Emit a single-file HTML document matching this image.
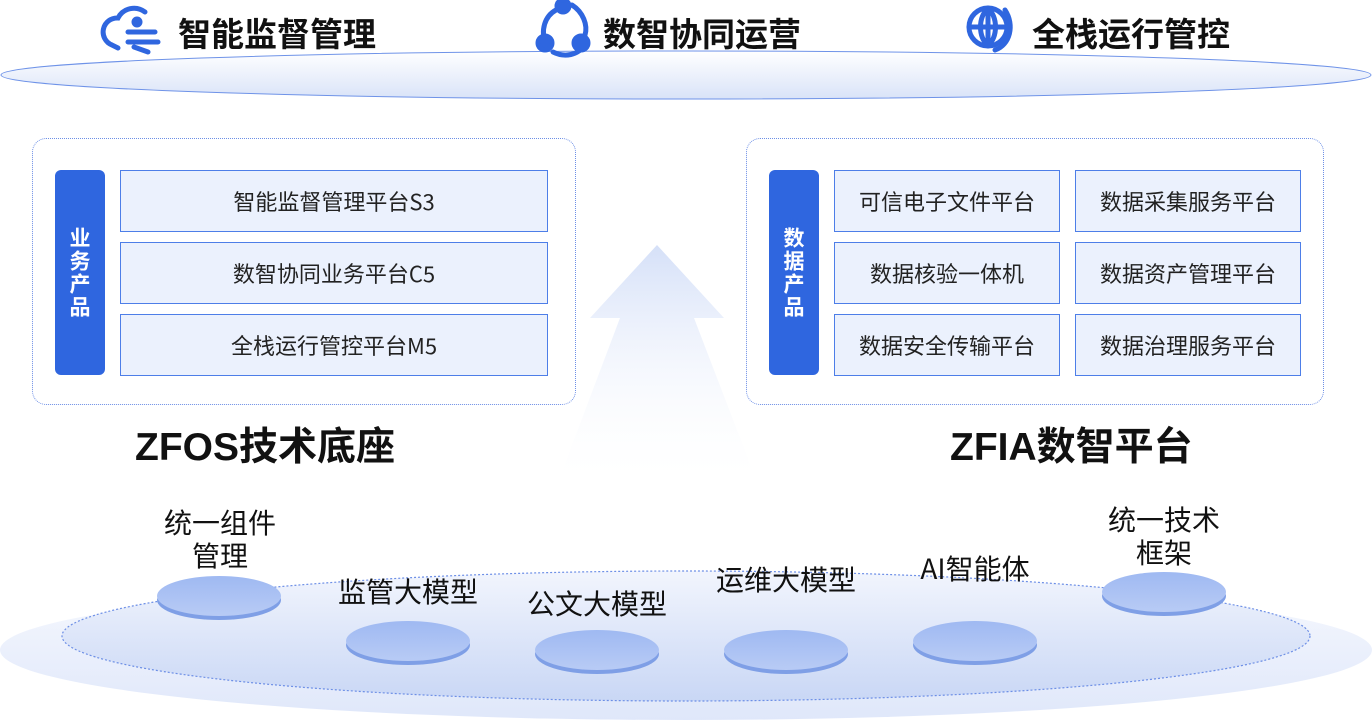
<!DOCTYPE html>
<html><head><meta charset="utf-8"><style>
body{margin:0;width:1372px;height:720px;overflow:hidden;background:#fff;position:relative;font-family:"Liberation Sans","Noto Sans CJK SC",sans-serif;}
.a{position:absolute}
.cont{position:absolute;border:1.5px dotted #6d8fe6;border-radius:14px;top:138px;height:265px;}
.tag{position:absolute;background:#2f66df;border-radius:6px;color:#fff;font-weight:bold;font-size:21px;width:50px;top:170px;height:205px;display:flex;align-items:center;justify-content:center;writing-mode:vertical-rl;letter-spacing:2px;font-family:"Noto Sans CJK SC",sans-serif;}
.cell{position:absolute;background:#ebf1fd;border:1.5px solid #4d7ee8;box-sizing:border-box;height:62px;display:flex;align-items:center;justify-content:center;font-size:22px;color:#222;font-family:"Noto Sans CJK SC",sans-serif;}
.ttl{position:absolute;font-size:39px;font-weight:bold;color:#111;}
.lbl{position:absolute;font-size:28px;color:#111;text-align:center;line-height:33px;font-family:"Noto Sans CJK SC",sans-serif;}
.top{position:absolute;top:8px;font-size:33px;font-weight:bold;color:#111;}
</style></head><body>
<svg class="a" style="left:0;top:0" width="1372" height="720">
<defs>
<linearGradient id="tg" x1="0" y1="0" x2="0" y2="1"><stop offset="0" stop-color="#fff"/><stop offset="1" stop-color="#d9e3f8"/></linearGradient>
<linearGradient id="bg" x1="0" y1="0" x2="0" y2="1"><stop offset="0" stop-color="#f7f9fe"/><stop offset="1" stop-color="#dfe7fa"/></linearGradient>
<linearGradient id="ig" x1="0" y1="0" x2="0" y2="1"><stop offset="0" stop-color="#f2f5fd"/><stop offset="1" stop-color="#c9d7f5"/></linearGradient>
<linearGradient id="ag" x1="0" y1="0" x2="0" y2="1"><stop offset="0" stop-color="#d5e0f8"/><stop offset="1" stop-color="#fff" stop-opacity="0"/></linearGradient>
<linearGradient id="dg" x1="0" y1="0" x2="0" y2="1"><stop offset="0" stop-color="#9fb9f2"/><stop offset="1" stop-color="#b8cbf5"/></linearGradient>
</defs>
<ellipse cx="686" cy="75" rx="685" ry="24" fill="url(#tg)" stroke="#6f93e8" stroke-width="1"/>
<polygon points="657,245 724,318 694,318 760,490 555,490 620,318 590,318" fill="url(#ag)"/>
<ellipse cx="686" cy="650" rx="686" ry="70" fill="url(#bg)"/>
<ellipse cx="686" cy="636" rx="624" ry="65" fill="url(#ig)" stroke="#6d8fe6" stroke-width="1.2" stroke-dasharray="2,2"/>
<g>
<ellipse cx="219" cy="600" rx="62" ry="20" fill="#7f9fe6"/><ellipse cx="219" cy="596" rx="62" ry="20" fill="url(#dg)"/>
<ellipse cx="408" cy="645" rx="62" ry="20" fill="#7f9fe6"/><ellipse cx="408" cy="641" rx="62" ry="20" fill="url(#dg)"/>
<ellipse cx="597" cy="654" rx="62" ry="20" fill="#7f9fe6"/><ellipse cx="597" cy="650" rx="62" ry="20" fill="url(#dg)"/>
<ellipse cx="786" cy="654" rx="62" ry="20" fill="#7f9fe6"/><ellipse cx="786" cy="650" rx="62" ry="20" fill="url(#dg)"/>
<ellipse cx="975" cy="645" rx="62" ry="20" fill="#7f9fe6"/><ellipse cx="975" cy="641" rx="62" ry="20" fill="url(#dg)"/>
<ellipse cx="1164" cy="596" rx="62" ry="20" fill="#7f9fe6"/><ellipse cx="1164" cy="592" rx="62" ry="20" fill="url(#dg)"/>
</g>
<g fill="none" stroke="#2f66df" stroke-width="5" stroke-linecap="round">
<path d="M145 12 A18 18 0 0 0 118 18 A14 14 0 0 0 112 45 L118 48"/>
<circle cx="137" cy="22" r="3" fill="#2f66df"/><path d="M128 32 H155 M128 42 H158 M134 47 L148 52"/>
<path d="M556 10 C545 16 540 30 546 45 M553 52 C565 58 578 55 585 45 M572 5 C583 12 588 25 585 35"/>
<circle cx="563" cy="6" r="6" fill="#2f66df"/><circle cx="545" cy="43" r="7" fill="#2f66df"/><circle cx="581" cy="43" r="7" fill="#2f66df"/>
<circle cx="988" cy="27" r="19"/><path d="M969 27 H1007 M988 8 V46 M988 8 C978 18 978 36 988 46 M988 8 C998 18 998 36 988 46 M1005 10 C1015 25 1010 45 995 50"/>
</g>
</svg>
<div class="top" style="left:178px">智能监督管理</div>
<div class="top" style="left:603px">数智协同运营</div>
<div class="top" style="left:1032px">全栈运行管控</div>

<div class="cont" style="left:32px;width:542px"></div>
<div class="tag" style="left:55px">业务产品</div>
<div class="cell" style="left:120px;top:170px;width:428px">智能监督管理平台S3</div>
<div class="cell" style="left:120px;top:242px;width:428px">数智协同业务平台C5</div>
<div class="cell" style="left:120px;top:314px;width:428px">全栈运行管控平台M5</div>

<div class="cont" style="left:746px;width:576px"></div>
<div class="tag" style="left:769px">数据产品</div>
<div class="cell" style="left:834px;top:170px;width:226px">可信电子文件平台</div>
<div class="cell" style="left:1075px;top:170px;width:226px">数据采集服务平台</div>
<div class="cell" style="left:834px;top:242px;width:226px">数据核验一体机</div>
<div class="cell" style="left:1075px;top:242px;width:226px">数据资产管理平台</div>
<div class="cell" style="left:834px;top:314px;width:226px">数据安全传输平台</div>
<div class="cell" style="left:1075px;top:314px;width:226px">数据治理服务平台</div>

<div class="ttl" style="left:135px;top:416px">ZFOS技术底座</div>
<div class="ttl" style="left:950px;top:416px">ZFIA数智平台</div>

<div class="lbl" style="left:120px;top:506px;width:200px">统一组件<br>管理</div>
<div class="lbl" style="left:308px;top:575px;width:200px">监管大模型</div>
<div class="lbl" style="left:497px;top:587px;width:200px">公文大模型</div>
<div class="lbl" style="left:686px;top:563px;width:200px">运维大模型</div>
<div class="lbl" style="left:875px;top:552px;width:200px">AI智能体</div>
<div class="lbl" style="left:1064px;top:503px;width:200px">统一技术<br>框架</div>
</body></html>
